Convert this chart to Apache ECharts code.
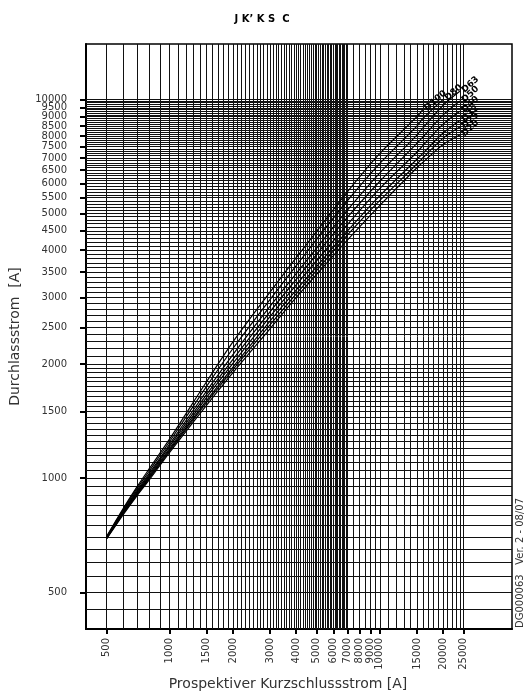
<!DOCTYPE html>
<html>
<head>
<meta charset="utf-8">
<script src="https://cdn.jsdelivr.net/npm/echarts@6/dist/echarts.min.js"></script>
<style>html,body{margin:0;background:#fff}#chart{width:524px;height:695px}</style>
</head>
<body>
<div id="chart"></div>
<script>
// Durchlassstrom-Kennlinien D20 ... D100
const xPoints = [500, 600, 700, 800, 1000, 1500, 2000, 3000, 4000, 5000, 7000, 10000, 15000, 16000, 20000, 24000]
const d100 = [700, 830, 950, 1060, 1270, 1800, 2290, 3100, 3820, 4480, 5700, 7200, 9000, 9400, null, null]
const d80  = [698, 825, 940, 1045, 1250, 1750, 2200, 2960, 3640, 4270, 5400, 6780, 8500, 8900, 10000, null]
const d63  = [696, 818, 930, 1030, 1230, 1700, 2120, 2840, 3470, 4050, 5100, 6400, 8050, 8400, 9650, 10500]
const d50  = [695, 815, 922, 1020, 1215, 1665, 2060, 2750, 3350, 3900, 4880, 6080, 7650, 7950, 9100, 9900]
const d40  = [694, 812, 915, 1012, 1200, 1635, 2010, 2670, 3240, 3750, 4670, 5820, 7250, 7550, 8600, 9300]
const d32  = [693, 808, 910, 1005, 1190, 1605, 1965, 2600, 3140, 3620, 4490, 5570, 6950, 7200, 8150, 8800]
const d25  = [692, 805, 905, 998, 1180, 1585, 1935, 2540, 3065, 3535, 4380, 5410, 6750, 7000, 7900, 8450]
const d20  = [690, 800, 900, 990, 1170, 1560, 1900, 2480, 3000, 3450, 4250, 5250, 6600, 6820, 7600, 8050]

const xTickLabels = [500, 1000, 1500, 2000, 3000, 4000, 5000, 6000, 7000, 8000, 9000, 10000, 15000, 20000, 25000]
const yTickLabels = [500, 1000, 1500, 2000, 2500, 3000, 3500, 4000, 4500, 5000, 5500, 6000, 6500, 7000, 7500, 8000, 8500, 9000, 9500, 10000]

const font = 'DejaVu Sans'

// 9500 auf eigener Achse, sonst blendet echarts das Nachbarlabel der Max-Beschriftung aus
const yMainLabels = yTickLabels.filter(v => v !== 9500)
const yExtraLabels = yTickLabels.filter(v => v === 9500)

// Rasterlinien
function steps(from, to, step) {
  let out = []
  for (let v = from; v <= to; v += step) out.push(v)
  return out
}
const xGrid = [].concat(steps(500, 7000, 100), steps(7500, 10000, 500), steps(11000, 25000, 1000))
const yGrid = [].concat(steps(450, 2000, 50), steps(2100, 10000, 100))

const curves = [
  ['D100', d100], ['D80', d80], ['D63', d63], ['D50', d50],
  ['D40', d40], ['D32', d32], ['D25', d25], ['D20', d20]
]

const myChart = echarts.init(document.getElementById('chart'))

let series = curves.map(([name, vals]) => ({
  name: name,
  type: 'line',
  smooth: 0.3,
  symbol: 'none',
  silent: true,
  z: 5,
  lineStyle: { color: '#000', width: 1.2 },
  data: xPoints.map((x, i) => [x, vals[i]]).filter(p => p[1] != null),
  endLabel: {
    show: true,
    formatter: '{a}',
    rotate: 42,
    distance: 3,
    fontSize: 9,
    fontWeight: 'bold',
    fontFamily: font,
    color: '#000'
  }
}))

series.push({
  name: 'raster',
  type: 'line',
  data: [],
  silent: true,
  markLine: {
    silent: true,
    symbol: 'none',
    animation: false,
    label: { show: false },
    lineStyle: { color: '#111', width: 1, type: 'solid' },
    data: xGrid.map(v => ({ xAxis: v })).concat(yGrid.map(v => ({ yAxis: v })))
  }
})

const yLabelStyle = {
  formatter: v => String(Math.round(v)),
  margin: 19,
  fontSize: 10,
  color: '#333',
  fontFamily: font,
  showMinLabel: true,
  showMaxLabel: true,
  hideOverlap: false
}

const option = {
  animation: false,
  backgroundColor: '#fff',
  title: {
    text: 'J K\u2019 K S  C',
    left: 'center',
    top: 9,
    textStyle: { fontSize: 10, fontWeight: 'bold', color: '#000', fontFamily: font }
  },
  grid: {
    left: 86,
    right: 12,
    top: 44,
    bottom: 66,
    show: true,
    borderColor: '#000',
    borderWidth: 1.5,
    outerBoundsMode: 'none'
  },
  xAxis: {
    type: 'log',
    logBase: 10,
    min: 400,
    max: 42500,
    name: 'Prospektiver Kurzschlussstrom [A]',
    nameLocation: 'middle',
    nameGap: 40,
    nameTextStyle: { fontSize: 14, color: '#333', fontFamily: font, padding: [0, 22, 0, 0] },
    axisLine: { show: true, lineStyle: { color: '#000', width: 2 } },
    axisTick: { show: true, customValues: xTickLabels, length: 5, lineStyle: { color: '#000', width: 2 } },
    axisLabel: {
      customValues: xTickLabels,
      formatter: v => String(Math.round(v)),
      rotate: 90,
      margin: 9,
      fontSize: 10,
      color: '#333',
      fontFamily: font,
      showMinLabel: true,
      showMaxLabel: true,
      hideOverlap: false
    },
    splitLine: { show: false },
    minorTick: { show: false }
  },
  yAxis: [{
    type: 'log',
    logBase: 10,
    min: 400,
    max: 14000,
    name: 'Durchlassstrom  [A]',
    nameLocation: 'middle',
    nameGap: 64,
    nameTextStyle: { fontSize: 14, color: '#333', fontFamily: font },
    axisLine: { show: true, lineStyle: { color: '#000', width: 2 } },
    axisTick: { show: true, customValues: yMainLabels, length: 6, lineStyle: { color: '#000', width: 2 } },
    axisLabel: Object.assign({ customValues: yMainLabels }, yLabelStyle),
    splitLine: { show: false },
    minorTick: { show: false }
  }, {
    type: 'log',
    logBase: 10,
    min: 400,
    max: 14000,
    position: 'left',
    axisLine: { show: false },
    axisTick: { show: true, customValues: yExtraLabels, length: 6, lineStyle: { color: '#000', width: 2 } },
    axisLabel: Object.assign({ customValues: yExtraLabels }, yLabelStyle),
    splitLine: { show: false },
    minorTick: { show: false }
  }],
  graphic: [{
    type: 'text',
    x: 520,
    y: 628,
    rotation: Math.PI / 2,
    style: {
      text: 'DG000063   Ver. 2 - 08/07',
      fontSize: 10,
      fill: '#333',
      fontFamily: font,
      align: 'left',
      verticalAlign: 'middle'
    }
  }],
  series: series
}

myChart.setOption(option)
</script>
</body>
</html>
